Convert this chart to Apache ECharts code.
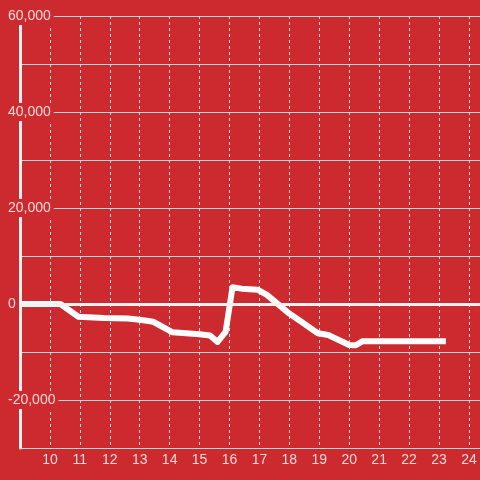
<!DOCTYPE html>
<html>
<head>
<meta charset="utf-8">
<script src="https://cdn.jsdelivr.net/npm/echarts@6/dist/echarts.min.js"></script>
<style>
  html, body { margin: 0; padding: 0; background: #cc2a2e; }
  #chart { width: 480px; height: 480px; }
</style>
</head>
<body>
<div id="chart"></div>
<script>
// hour of day / value pairs
var hours = [9, 10.35, 10.95, 11.8, 12.6, 13.0, 13.45, 14.1, 15.0, 15.35, 15.6, 15.87, 16.1, 16.4, 16.95, 17.25, 18.0, 18.4, 18.95, 19.3, 20.0, 20.22, 20.45, 23.23];
var values = [0, 0, -2650, -2900, -3000, -3300, -3700, -5900, -6300, -6550, -7900, -5800, 3500, 3200, 2950, 1900, -2000, -3700, -6100, -6450, -8550, -8600, -7750, -7750];
var yTicks = [-20000, 0, 20000, 40000, 60000];
var xTicks = [10, 11, 12, 13, 14, 15, 16, 17, 18, 19, 20, 21, 22, 23, 24];

var labelColor = '#f4d9d9';
var bg = '#cc2a2e';

var points = hours.map(function (h, i) { return [h, values[i]]; });

var chart = echarts.init(document.getElementById('chart'));
chart.setOption({
    backgroundColor: bg,
    animation: false,
    grid: { left: 20, right: 0, top: 16, bottom: 32 },
    xAxis: {
        type: 'value',
        min: 9,
        max: 24.37,
        interval: 1,
        axisLine: { show: true, onZero: false, lineStyle: { color: '#d6d6d6', width: 1 } },
        axisTick: { show: false },
        axisLabel: {
            color: labelColor,
            fontSize: 14,
            fontFamily: 'Liberation Sans',
            margin: 5,
            showMaxLabel: false,
            formatter: function (v) { return xTicks.indexOf(v) >= 0 ? String(v) : ''; }
        },
        splitLine: { show: true, lineStyle: { color: '#dcdcdc', type: [3, 3], width: 1 } }
    },
    yAxis: {
        type: 'value',
        min: -30000,
        max: 60000,
        interval: 10000,
        axisLine: { show: true, onZero: false, lineStyle: { color: '#f2f2f2', width: 3 } },
        axisTick: { show: false },
        axisLabel: {
            color: labelColor,
            fontSize: 14,
            fontFamily: 'Liberation Sans',
            align: 'left',
            margin: 13,
            backgroundColor: bg,
            padding: [2, 3, 2, 1],
            formatter: function (v) {
                return yTicks.indexOf(v) >= 0 ? v.toLocaleString('en-US') : '';
            }
        },
        splitLine: { show: true, lineStyle: { color: '#d6d6d6', width: 1 } }
    },
    series: [{
        type: 'line',
        data: points,
        showSymbol: false,
        lineStyle: { color: '#ffffff', width: 6, join: 'round' },
        markLine: {
            silent: true,
            symbol: 'none',
            label: { show: false },
            lineStyle: { color: '#f2f2f2', width: 3, type: 'solid' },
            data: [{ yAxis: 0 }]
        }
    }]
});
</script>
</body>
</html>
